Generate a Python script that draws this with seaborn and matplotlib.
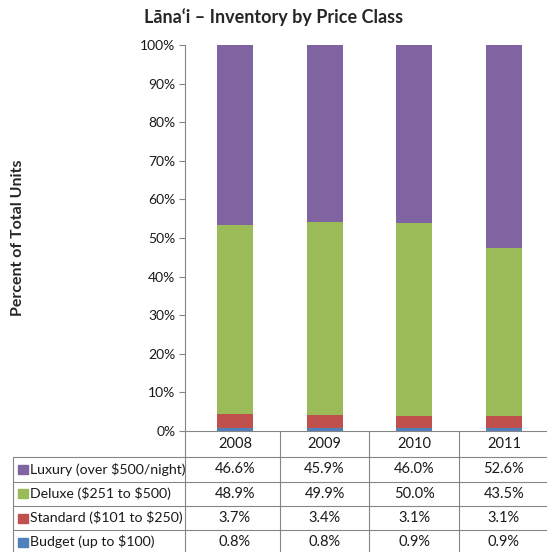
import matplotlib
matplotlib.use("Agg")
import matplotlib.pyplot as plt
import seaborn as sns
import pandas as pd
import numpy as np

# data
years = ["2008", "2009", "2010", "2011"]
classes = ["Luxury (over $500/night)", "Deluxe ($251 to $500)",
           "Standard ($101 to $250)", "Budget (up to $100)"]
luxury = [46.6, 45.9, 46.0, 52.6]
deluxe = [48.9, 49.9, 50.0, 43.5]
standard = [3.7, 3.4, 3.1, 3.1]
budget = [0.8, 0.8, 0.9, 0.9]
colors = ["#8064A2", "#9BBB59", "#C0504D", "#4F81BD"]

sns.set_theme(style="white")
plt.rcParams["font.family"] = ["Lato", "DejaVu Sans"]
plt.rcParams["text.parse_math"] = False  # keep the $ signs literal

W, H = 547, 552
fig = plt.figure(figsize=(W / 100, H / 100), dpi=100)

# layout in pixels
ax_l, ax_r, ax_t, ax_b = 185, 547, 45, 431
tab_l = 13
ax = fig.add_axes([ax_l / W, (H - ax_b) / H, (ax_r - ax_l) / W, (ax_b - ax_t) / H])

# stacked bars: draw cumulative totals from the top layer down
series = [luxury, deluxe, standard, budget]
cum = np.cumsum(np.array(series[::-1]), axis=0)[::-1]  # luxury row = total
for vals, col in zip(cum, colors):
    df = pd.DataFrame({"year": years, "value": vals})
    sns.barplot(data=df, x="year", y="value", color=col, saturation=1,
                width=0.4, ax=ax, linewidth=0)

x0, x1 = -0.557, 3.48
ax.set_xlim(x0, x1)
ax.set_ylim(0, 100)
ax.set_yticks(range(0, 101, 10))
ax.set_yticklabels([f"{v}%" for v in range(0, 101, 10)])
ax.set_xticks([])
ax.set_xlabel("")
ax.set_ylabel("")
ax.tick_params(axis="y", direction="out", length=4, width=0.8, color="#868686",
               labelsize=10, pad=3, left=True, labelcolor="#1a1a1a")
sns.despine(ax=ax)
for s in ["left", "bottom"]:
    ax.spines[s].set_color("#868686")
    ax.spines[s].set_linewidth(0.8)

fig.text(18 / W, 1 - ((ax_t + ax_b) / 2) / H, "Percent of Total Units", rotation=90,
         ha="center", va="center", fontsize=11.5, fontweight="bold")
fig.text(0.5, 1 - 17 / H, "Lāna‘i – Inventory by Price Class", ha="center", va="center",
         fontsize=13, fontweight="bold")

# data table under the axis
th = H - ax_b
tax = fig.add_axes([tab_l / W, 0, (ax_r - tab_l) / W, th / H])
tax.axis("off")
ppu = (ax_r - ax_l) / (x1 - x0)
tx0 = x0 - (ax_l - tab_l) / ppu
tax.set_xlim(tx0, x1)
tax.set_ylim(th, 0)

lc, lw = "#868686", 0.8
row_lines = [26, 50.5, 75, 99]
for y in row_lines:
    tax.plot([tx0, x1], [y, y], color=lc, lw=lw, clip_on=False)
tax.plot([tx0, tx0], [26, th], color=lc, lw=lw, clip_on=False)
for xv in [x0, 0.5, 1.5, 2.5]:
    tax.plot([xv, xv], [0, th], color=lc, lw=lw, clip_on=False)

for i, yr in enumerate(years):
    tax.text(i, 13.5, yr, ha="center", va="center", fontsize=10.5, color="#1a1a1a")

row_centers = [38.2, 62.7, 87, 111]
sw = 10 / ppu
for r, (name, vals, col) in enumerate(zip(classes, series, colors)):
    yc = row_centers[r]
    tax.add_patch(plt.Rectangle((tx0 + 5 / ppu, yc - 4.5), sw, 9, color=col, clip_on=False))
    tax.text(tx0 + 16.5 / ppu, yc, name, ha="left", va="center", fontsize=10.2,
             color="#1a1a1a")
    for i, v in enumerate(vals):
        tax.text(i, yc, f"{v:.1f}%", ha="center", va="center", fontsize=10.5,
                 color="#1a1a1a")

fig.savefig("out.png", dpi=100)
